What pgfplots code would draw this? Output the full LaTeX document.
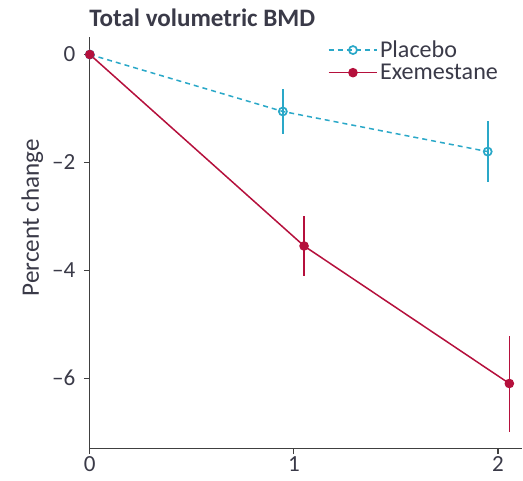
\documentclass[border=0pt]{standalone}
\usepackage{pgfplots}
\pgfplotsset{compat=1.18}
\usepackage{fontspec}
\setmainfont{Carlito}
\definecolor{plac}{HTML}{2AA8C8}
\definecolor{exem}{HTML}{B5103C}
\definecolor{txt}{HTML}{3A3A48}
\begin{document}
\begin{tikzpicture}
\begin{axis}[
  scale only axis,
  width=431pt, height=410pt,
  xmin=0, xmax=2.12, ymin=-7.3, ymax=0.33,
  axis lines=left,
  axis line style={-, line width=1.2pt, color=black!75},
  xtick={0,1,2}, ytick={0,-2,-4,-6},
  yticklabels={0,\textendash2,\textendash4,\textendash6},
  tick style={line width=1.2pt, color=black!75},
  tick align=outside,
  major tick length=6pt,
  /pgf/number format/assume math mode=true,
  ticklabel style={font=\fontsize{23}{25}\selectfont, text=txt},
  yticklabel style={xshift=-5pt},
  xticklabel style={yshift=1pt},
  ylabel={Percent change},
  ylabel style={font=\fontsize{25}{27}\selectfont, text=txt, at={(ticklabel cs:0.56)}, yshift=2pt},
  title={\textbf{Total volumetric BMD}},
  title style={font=\fontsize{25}{27}\selectfont, text=txt, at={(rel axis cs:0,1)}, anchor=south west, yshift=0pt, xshift=-4pt},
  clip=false,
  legend style={draw=none, fill=none, at={(rel axis cs:0.55,1.0)}, anchor=north west,
    font=\fontsize{24}{26}\selectfont, text=txt, row sep=1pt, inner xsep=0pt,
    /tikz/every even column/.append style={column sep=6pt}},
  legend cell align=left,
  legend image code/.code={\draw[#1] (0cm,0cm) -- (1.7cm,0cm); \draw[#1, mark repeat=1, mark phase=1] plot coordinates {(0.85cm,0cm)};},
]
\addplot[color=plac, line width=1.5pt, dash pattern=on 5pt off 4pt,
  mark=o, mark size=4pt, mark options={solid, fill=white, line width=1.7pt},
  error bars/.cd, y dir=both, y explicit, error mark=none,
  error bar style={solid, line width=1.6pt}]
  coordinates {
  (0,0) +- (0,0)
  (0.946,-1.056) +- (0,0.41)
  (1.95,-1.80) +- (0,0.57)
  };
\addlegendentry{Placebo}
\addplot[color=exem, line width=1.5pt,
  mark=*, mark size=4pt, mark options={solid},
  error bars/.cd, y dir=both, y explicit, error mark=none,
  error bar style={solid, line width=1.6pt}]
  coordinates {
  (0,0) +- (0,0)
  (1.05,-3.55) +- (0,0.56)
  (2.056,-6.10) +- (0,0.89)
  };
\addlegendentry{Exemestane}
\end{axis}
\path (current bounding box.west) ++(-18pt,0);
\path (current bounding box.south) ++(0,-5pt);
\path (current bounding box.north) ++(0,6pt);
\end{tikzpicture}
\end{document}
